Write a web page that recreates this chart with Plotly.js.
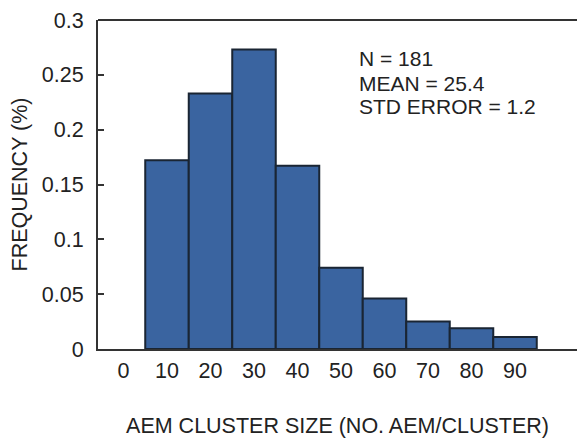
<!DOCTYPE html>
<html>
<head>
<meta charset="utf-8">
<script src="https://cdn.plot.ly/plotly-3.0.1.min.js"></script>
<style>html,body{margin:0;padding:0;background:#fff;}#chart{width:577px;height:442px;}</style>
</head>
<body>
<div id="chart"></div>
<script>
const binCenters = [10, 20, 30, 40, 50, 60, 70, 80, 90];
const frequency = [0.172, 0.233, 0.273, 0.167, 0.074, 0.046, 0.025, 0.019, 0.011];
const xTicks = [0, 10, 20, 30, 40, 50, 60, 70, 80, 90];
const yTicks = [0, 0.05, 0.1, 0.15, 0.2, 0.25, 0.3];
const yTickText = ['0', '0.05', '0.1', '0.15', '0.2', '0.25', '0.3'];
const statLines = ['N = 181', 'MEAN = 25.4', 'STD ERROR = 1.2'];
const statY = [0.2653, 0.2425, 0.2207];

const font = 'Liberation Sans, Arial, sans-serif';
const trace = {
  type: 'bar',
  x: binCenters,
  y: frequency,
  width: 10,
  marker: {color: '#3a64a0', line: {color: '#1a2533', width: 2}},
  hoverinfo: 'x+y'
};
const layout = {
  width: 577, height: 442,
  margin: {l: 98, r: 0, t: 20, b: 93},
  paper_bgcolor: '#fff', plot_bgcolor: '#fff',
  showlegend: false,
  bargap: 0,
  font: {family: font, size: 21, color: '#222'},
  xaxis: {
    range: [-5.86, 104.25],
    tickvals: xTicks, ticktext: xTicks.map(String),
    ticks: '', showgrid: false, zeroline: false,
    showline: true, linecolor: '#333', linewidth: 2,
    tickfont: {family: font, size: 21.5, color: '#222'},
    ticklabelstandoff: 1,
    title: {text: 'AEM CLUSTER SIZE (NO. AEM/CLUSTER)', font: {family: font, size: 21.5, color: '#222'}, standoff: 36}
  },
  yaxis: {
    range: [0, 0.3],
    tickvals: yTicks, ticktext: yTickText,
    ticks: 'inside', ticklen: 6, tickwidth: 2, tickcolor: '#333',
    showgrid: false, zeroline: false,
    showline: true, linecolor: '#333', linewidth: 2,
    tickfont: {family: font, size: 21.5, color: '#222'},
    ticklabelstandoff: 8,
    title: {text: 'FREQUENCY (%)', font: {family: font, size: 21.5, color: '#222'}, standoff: 8}
  },
  shapes: [{type: 'line', xref: 'paper', yref: 'paper', x0: 0, x1: 1, y0: 1, y1: 1, line: {color: '#333', width: 2}}],
  annotations: statLines.map((t, i) => ({
    text: t, x: 53.6, y: statY[i], xref: 'x', yref: 'y',
    xanchor: 'left', yanchor: 'middle', showarrow: false,
    font: {family: font, size: 21, color: '#222'}
  }))
};
Plotly.newPlot('chart', [trace], layout, {displayModeBar: false, staticPlot: true});
</script>
</body>
</html>
